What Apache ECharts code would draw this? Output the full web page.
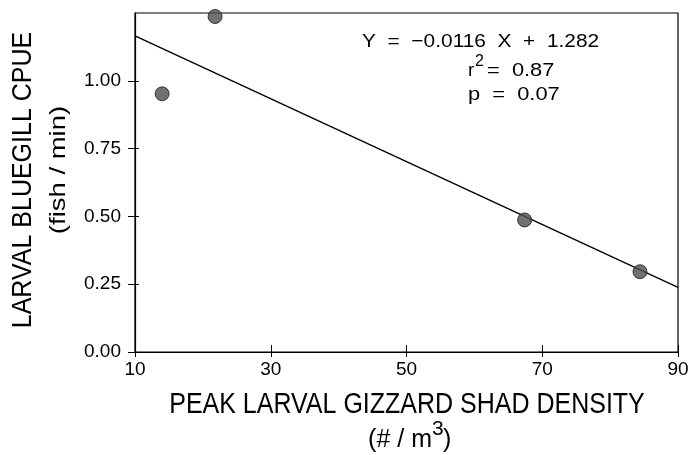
<!DOCTYPE html>
<html><head><meta charset="utf-8">
<script src="https://cdn.jsdelivr.net/npm/echarts@6/dist/echarts.min.js"></script>
<style>html,body{margin:0;padding:0;background:#fff}#c{width:692px;height:455px}</style>
</head><body><div id="c"></div>
<script>
var densityX = [14, 21.8, 67.4, 84.4];
var cpueY = [0.952, 1.237, 0.487, 0.296];
var fitX = [10, 90];
var fitY = [1.166, 0.238];
var xTicks = ['10', '30', '50', '70', '90'];
var yTicks = ['0.00', '0.25', '0.50', '0.75', '1.00'];
var yTickValues = [0, 0.25, 0.5, 0.75, 1.0];
var eqText = 'Y  =  \u22120.0116  X  +  1.282';
var r2Text = '=  0.87';
var pText = 'p  =  0.07';

var pts = densityX.map(function(x, i){ return [x, cpueY[i]]; });
var fit = fitX.map(function(x, i){ return [x, fitY[i]]; });
var font = '"Liberation Sans", Arial, sans-serif';
function T(o){ o.type = 'text'; o.style.fill = '#000'; return o; }

var chart = echarts.init(document.getElementById('c'));
chart.setOption({
  animation: false,
  grid: {left: 135, right: 14, top: 13, bottom: 103, show: true, borderColor: '#000', borderWidth: 1.2},
  xAxis: [{
    type: 'value', min: 10, max: 90, interval: 20,
    axisLine: {lineStyle: {color: '#000', width: 1.2}},
    axisTick: {length: 5, lineStyle: {color: '#000'}},
    axisLabel: {color: '#000', fontSize: 19, fontFamily: font, margin: 8,
      formatter: function(v){ return xTicks[Math.round((v - 10) / 20)]; }},
    splitLine: {show: false}
  }, {
    type: 'value', min: 10, max: 90, interval: 20, position: 'bottom',
    axisLine: {show: false}, axisLabel: {show: false},
    axisTick: {inside: true, length: 7, lineStyle: {color: '#000'}},
    splitLine: {show: false}
  }],
  yAxis: [{
    type: 'value', min: 0, max: 1.25, interval: 0.25,
    axisLine: {show: true, lineStyle: {color: '#000', width: 1.2}},
    axisTick: {show: true, length: 7, lineStyle: {color: '#000'}, customValues: yTickValues},
    axisLabel: {color: '#000', fontSize: 19, fontFamily: font, margin: 14,
      formatter: function(v){ var i = Math.round(v / 0.25); return i < yTicks.length ? yTicks[i] : ''; }},
    splitLine: {show: false}
  }, {
    type: 'value', min: 0, max: 1.25, interval: 0.25, position: 'left',
    axisLine: {show: false}, axisLabel: {show: false},
    axisTick: {show: true, inside: true, length: 4, lineStyle: {color: '#000'},
      customValues: yTickValues},
    splitLine: {show: false}
  }],
  series: [
    {type: 'line', data: fit, symbol: 'none', lineStyle: {color: '#000', width: 1.4}, z: 2},
    {type: 'scatter', data: pts, symbol: 'circle', symbolSize: 14,
     itemStyle: {color: '#4d4d4d', borderColor: '#1a1a1a', borderWidth: 1}, z: 3}
  ],
  graphic: [
    T({x: 23, y: 180, rotation: Math.PI / 2, scaleY: 1.12, style: {text: 'LARVAL BLUEGILL CPUE', font: '25px ' + font, align: 'center', verticalAlign: 'middle'}}),
    T({x: 59, y: 170, rotation: Math.PI / 2, scaleX: 1.25, style: {text: '(fish / min)', font: '22px ' + font, align: 'center', verticalAlign: 'middle'}}),
    T({x: 407, y: 405, scaleY: 1.15, style: {text: 'PEAK LARVAL GIZZARD SHAD DENSITY', font: '25px ' + font, align: 'center', verticalAlign: 'middle'}}),
    T({x: 432, y: 440, style: {text: '(# / m', font: '25px ' + font, align: 'right', verticalAlign: 'middle'}}),
    T({x: 432, y: 429, style: {text: '3', font: '21px ' + font, align: 'left', verticalAlign: 'middle'}}),
    T({x: 443, y: 440, style: {text: ')', font: '25px ' + font, align: 'left', verticalAlign: 'middle'}}),
    T({x: 362, y: 42, scaleX: 1.1, style: {text: eqText, font: '19px ' + font, align: 'left', verticalAlign: 'middle'}}),
    T({x: 468, y: 71, style: {text: 'r', font: '19px ' + font, align: 'left', verticalAlign: 'middle'}}),
    T({x: 475, y: 62, style: {text: '2', font: '16px ' + font, align: 'left', verticalAlign: 'middle'}}),
    T({x: 487, y: 71, scaleX: 1.15, style: {text: r2Text, font: '19px ' + font, align: 'left', verticalAlign: 'middle'}}),
    T({x: 468, y: 95, scaleX: 1.15, style: {text: pText, font: '19px ' + font, align: 'left', verticalAlign: 'middle'}})
  ]
});
</script></body></html>
